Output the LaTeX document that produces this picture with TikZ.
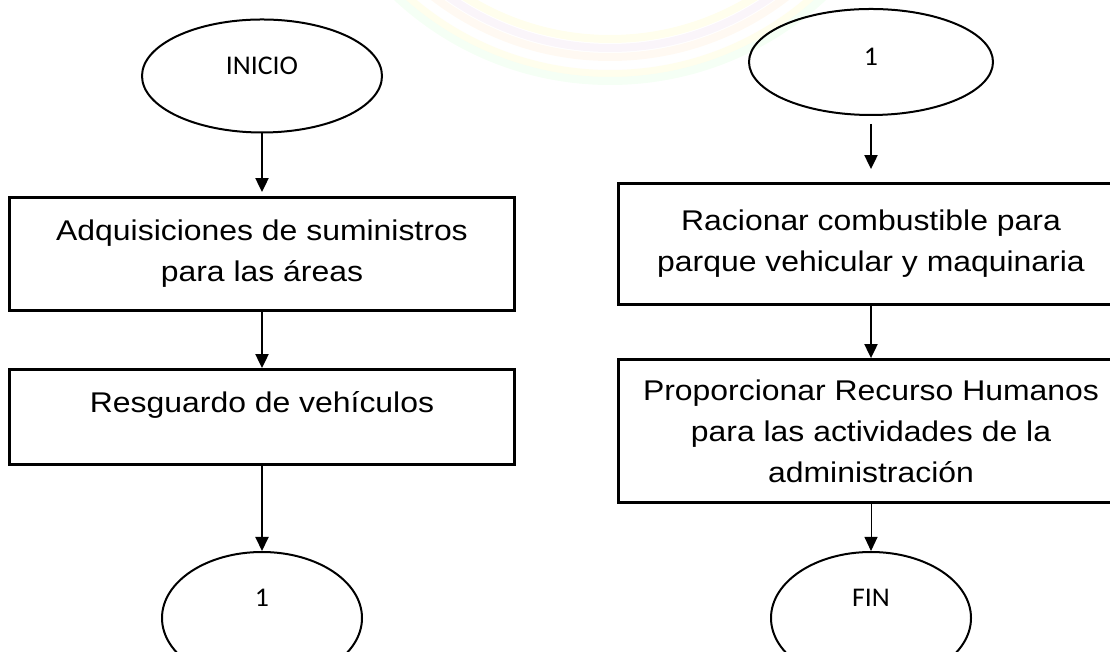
\documentclass[tikz,border=0pt]{standalone}
\usepackage{fontspec}
\setmainfont{Liberation Sans}[FakeStretch=1.12]
\newfontfamily\calibri{Carlito}[FakeStretch=1.03]
\usetikzlibrary{shapes.geometric,positioning,arrows.meta}

\tikzset{
  proc/.style={draw, rectangle, line width=2.8pt, minimum width=505pt, align=center,
    font=\fontsize{28.5}{41}\selectfont},
  term/.style={draw, ellipse, line width=2pt, inner sep=0pt, text height=17pt,
    font=\calibri\fontsize{27}{32}\selectfont},
  flow/.style={->, line width=2pt},
}

\begin{document}
\begin{tikzpicture}[x=1pt,y=1pt,node distance=180pt,on grid,
    >={Triangle[length=14pt,width=13pt]}]
    \useasboundingbox (0,0) rectangle (1110,652);
    \clip (0,0) rectangle (1110,652);

    % marca de agua
    \foreach \r/\col in {271/yellow!7, 280/violet!4, 289/orange!5, 298/white, 306/yellow!7, 313/green!4}
      \draw[\col, line width=8pt] (610,884) circle (\r);

    % columna izquierda
    \node[term,text depth=20pt,minimum width=240pt,minimum height=113pt] (inicio) at (262,576) {INICIO};
    \node[proc,minimum height=113pt] (adq)  [below=178pt of inicio] {Adquisiciones de suministros\\para las áreas};
    \node[proc,minimum height=95pt,text height=12pt,text depth=21pt] (resg) [below=163pt of adq] {Resguardo de vehículos};
    \node[term,text depth=40pt,minimum width=200pt,minimum height=132pt] (con1) [below=201pt of resg] {1};

    % columna derecha
    \node[term,text depth=10pt,minimum width=244pt,minimum height=106pt] (con2) at (871,590) {1};
    \node[proc,minimum height=121pt] (rac)  [below=182pt of con2] {Racionar combustible para\\parque vehicular y maquinaria};
    \node[proc,minimum height=143pt] (prop) [below=187pt of rac] {Proporcionar Recurso Humanos\\para las actividades de la\\administración};
    \node[term,text depth=40pt,minimum width=200pt,minimum height=132pt] (fin) [below=187pt of prop] {FIN};

    \path[flow] (inicio) edge[shorten >=4pt] (adq)
                (adq)    edge (resg)
                (resg)   edge (con1)
                (con2)   edge[shorten <=8pt,shorten >=13pt] (rac)
                (rac)    edge (prop)
                (prop)   edge[line width=1pt] (fin);
\end{tikzpicture}
\end{document}
